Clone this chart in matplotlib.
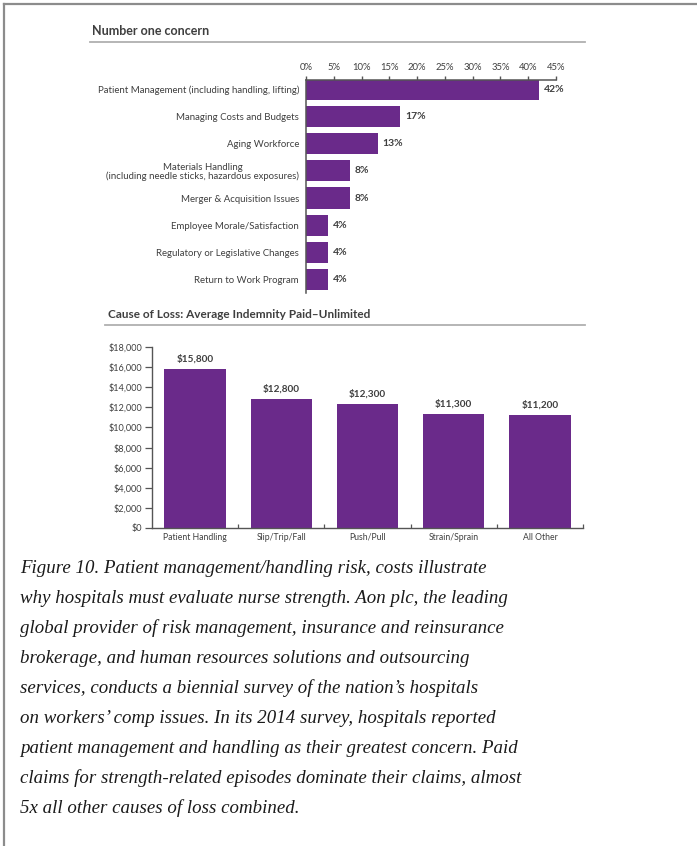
import matplotlib
matplotlib.use("Agg")
import matplotlib.pyplot as plt
from matplotlib.lines import Line2D

# ---------------- data ----------------
concern_labels = [
    "Patient Management (including handling, lifting)",
    "Managing Costs and Budgets",
    "Aging Workforce",
    "Materials Handling\n(including needle sticks, hazardous exposures)",
    "Merger & Acquisition Issues",
    "Employee Morale/Satisfaction",
    "Regulatory or Legislative Changes",
    "Return to Work Program",
]
concern_values = [42, 17, 13, 8, 8, 4, 4, 4]
pct_ticks = [0, 5, 10, 15, 20, 25, 30, 35, 40, 45]

loss_labels = ["Patient Handling", "Slip/Trip/Fall", "Push/Pull", "Strain/Sprain", "All Other"]
loss_values = [15800, 12800, 12300, 11300, 11200]
dollar_ticks = [0, 2000, 4000, 6000, 8000, 10000, 12000, 14000, 16000, 18000]

caption_lines = [
    "Figure 10. Patient management/handling risk, costs illustrate",
    "why hospitals must evaluate nurse strength. Aon plc, the leading",
    "global provider of risk management, insurance and reinsurance",
    "brokerage, and human resources solutions and outsourcing",
    "services, conducts a biennial survey of the nation\u2019s hospitals",
    "on workers\u2019 comp issues. In its 2014 survey, hospitals reported",
    "patient management and handling as their greatest concern. Paid",
    "claims for strength-related episodes dominate their claims, almost",
    "5x all other causes of loss combined.",
]

# ---------------- style ----------------
W, H = 697, 846
PURPLE = "#6a2a8a"
TXT = "#3f3f3f"
plt.rcParams["font.family"] = ["Lato", "DejaVu Sans"]

fig = plt.figure(figsize=(W / 100, H / 100), dpi=100)
fig.patch.set_facecolor("white")

def fx(px):
    return px / W

def fy(py):
    return 1 - py / H

# frame lines
fig.add_artist(Line2D([fx(4), fx(696)], [fy(4), fy(4)], color="#8c8c8c", lw=1.6))
fig.add_artist(Line2D([fx(4), fx(4)], [fy(4), 0], color="#8c8c8c", lw=1.6))

# ---------------- top chart ----------------
fig.text(fx(92), fy(31), "Number one concern", fontsize=9, fontweight="bold",
         color=TXT, va="center", ha="left")
fig.add_artist(Line2D([fx(90), fx(585)], [fy(42), fy(42)], color="#b0b0b0", lw=1.3))

ax1 = fig.add_axes([fx(306), fy(293), fx(556) - fx(306), fy(80) - fy(293)])
ypos = list(range(len(concern_values)))
ax1.barh(ypos, concern_values, height=0.78, color=PURPLE, zorder=2)
ax1.set_xlim(0, 45)
ax1.set_ylim(7.5, -0.35)
for s in ["right", "bottom"]:
    ax1.spines[s].set_visible(False)
for s in ["top", "left"]:
    ax1.spines[s].set_color("#555555")
    ax1.spines[s].set_linewidth(1.1)
ax1.xaxis.set_ticks_position("top")
ax1.set_xticks(pct_ticks)
ax1.set_xticklabels([f"{t}%" for t in pct_ticks], fontsize=6.8, color=TXT)
ax1.tick_params(axis="x", direction="out", length=3, width=1, color="#555555", pad=3)
ax1.set_yticks(ypos)
ax1.set_yticklabels(concern_labels, fontsize=6.9, color=TXT)
ax1.tick_params(axis="y", length=0, pad=5)
for lab in ax1.get_yticklabels():
    lab.set_multialignment("center")
    lab.set_linespacing(1.0)
for y, v in zip(ypos, concern_values):
    ax1.text(v + 0.8, y, f"{v}%", va="center", ha="left", fontsize=7.5,
             fontweight="bold", color=TXT)

# ---------------- bottom chart ----------------
fig.text(fx(108), fy(314), "Cause of Loss: Average Indemnity Paid\u2013Unlimited",
         fontsize=8.5, fontweight="bold", color=TXT, va="center", ha="left")
fig.add_artist(Line2D([fx(105), fx(585)], [fy(325), fy(325)], color="#b0b0b0", lw=1.3))

ax2 = fig.add_axes([fx(152), fy(528), fx(583) - fx(152), fy(347) - fy(528)])
xpos = list(range(len(loss_values)))
ax2.bar(xpos, loss_values, width=0.71, color=PURPLE, zorder=2)
ax2.set_xlim(-0.5, 4.5)
ax2.set_ylim(0, 18000)
for s in ["right", "top"]:
    ax2.spines[s].set_visible(False)
for s in ["bottom", "left"]:
    ax2.spines[s].set_color("#555555")
    ax2.spines[s].set_linewidth(1.0)
ax2.set_yticks(dollar_ticks)
ax2.set_yticklabels([f"${t:,}" for t in dollar_ticks], fontsize=6.6, color=TXT)
ax2.tick_params(axis="y", direction="out", length=5, width=0.9, color="#555555", pad=2)
ax2.set_xticks([i + 0.5 for i in xpos])
ax2.set_xticklabels([])
ax2.tick_params(axis="x", which="major", direction="in", length=3, width=0.9, color="#555555")
ax2.set_xticks(xpos, minor=True)
ax2.set_xticklabels(loss_labels, minor=True, fontsize=6.2, color=TXT)
ax2.tick_params(axis="x", which="minor", length=0, pad=8.3)
for lab in ax2.get_xticklabels(minor=True):
    lab.set_verticalalignment("baseline")
for x, v in zip(xpos, loss_values):
    ax2.annotate(f"${v:,}", (x, v), xytext=(0, 4), textcoords="offset points",
                 ha="center", va="bottom", fontsize=7.2, fontweight="bold", color=TXT)

# ---------------- caption ----------------
baselines = [573, 603, 633, 663, 693, 723, 753, 783, 813]
for line, b in zip(caption_lines, baselines):
    fig.text(fx(20), fy(b), line, fontsize=13.6, style="italic", color="#1a1a1a",
             family=["Liberation Serif", "DejaVu Serif"], va="baseline", ha="left")

fig.savefig("out.png", dpi=100, facecolor="white")
